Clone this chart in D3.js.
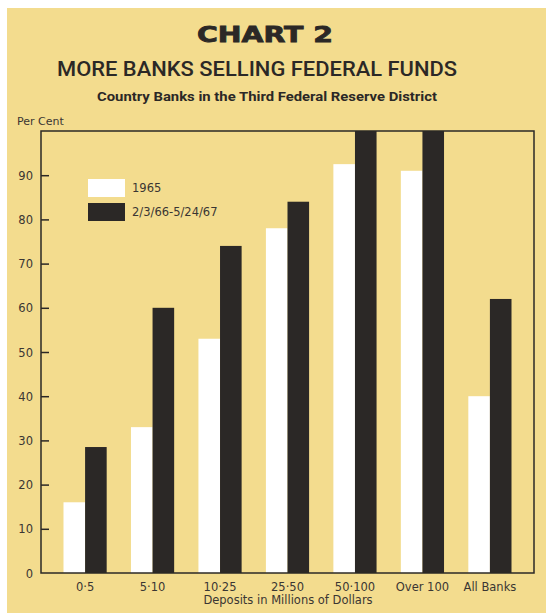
<!DOCTYPE html>
<html>
<head>
<meta charset="utf-8">
<script src="https://cdn.jsdelivr.net/npm/d3@7"></script>
<style>
  body { margin: 0; background: #fff; }
  svg { display: block; }
</style>
</head>
<body>
<svg id="chart"></svg>
<script>
const categories = ["0-5", "5-10", "10-25", "25-50", "50-100", "Over 100", "All Banks"];
const series1965 = [16, 33, 53, 78, 92.5, 91, 40];
const series1967 = [28.5, 60, 74, 84, 100, 100, 62];
const seriesNames = ["1965", "2/3/66-5/24/67"];
const yTicks = [0, 10, 20, 30, 40, 50, 60, 70, 80, 90];

function renderChart() {
    const W = 546, H = 613;
    const paper = "#f3dc8e", ink = "#2b2826", textCol = "#3a3633";

    const svg = d3.select("#chart")
        .attr("width", W)
        .attr("height", H);

    // yellow page with white margin on top/left
    svg.append("rect").attr("x", 7).attr("y", 8).attr("width", W - 7).attr("height", H - 8).attr("fill", paper);

    // frame of the plot
    const left = 41, right = 534, top = 131, bottom = 573;

    const x = d3.scaleBand()
        .domain(categories)
        .range([63.5, 511.5])
        .paddingInner(0.36)
        .paddingOuter(0);

    const sub = d3.scaleBand()
        .domain([0, 1])
        .range([0, x.bandwidth()]);

    const y = d3.scaleLinear()
        .domain([0, 100])
        .range([bottom, top]);

    // Titles
    svg.append("text")
        .attr("x", 265).attr("y", 42)
        .attr("text-anchor", "middle")
        .attr("textLength", 136).attr("lengthAdjust", "spacingAndGlyphs")
        .style("font-family", "DejaVu Sans").style("font-weight", "900")
        .style("font-size", "21px").style("fill", ink)
        .style("stroke", ink).style("stroke-width", "0.8px")
        .text("CHART 2");

    svg.append("text")
        .attr("x", 257).attr("y", 76)
        .attr("text-anchor", "middle")
        .attr("textLength", 400).attr("lengthAdjust", "spacingAndGlyphs")
        .style("font-family", "Roboto").style("font-weight", "500")
        .style("font-size", "20.5px").style("fill", ink)
        .text("MORE BANKS SELLING FEDERAL FUNDS");

    svg.append("text")
        .attr("x", 267).attr("y", 101)
        .attr("text-anchor", "middle")
        .attr("textLength", 340).attr("lengthAdjust", "spacingAndGlyphs")
        .style("font-family", "Roboto").style("font-weight", "bold")
        .style("font-size", "13px").style("fill", ink)
        .text("Country Banks in the Third Federal Reserve District");

    svg.append("text")
        .attr("x", 17).attr("y", 125)
        .style("font-family", "DejaVu Sans")
        .style("font-size", "11px").style("fill", textCol)
        .text("Per Cent");

    // bars
    const groups = svg.append("g").selectAll("g")
        .data(categories)
        .join("g")
        .attr("transform", d => `translate(${x(d)},0)`);

    groups.append("rect")
        .attr("x", sub(0)).attr("width", sub.bandwidth())
        .attr("y", (d, i) => y(series1965[i]))
        .attr("height", (d, i) => y(0) - y(series1965[i]))
        .attr("fill", "#ffffff");

    groups.append("rect")
        .attr("x", sub(1)).attr("width", sub.bandwidth())
        .attr("y", (d, i) => y(series1967[i]))
        .attr("height", (d, i) => y(0) - y(series1967[i]))
        .attr("fill", ink);

    // frame
    svg.append("rect")
        .attr("x", left).attr("y", top)
        .attr("width", right - left).attr("height", bottom - top)
        .attr("fill", "none").attr("stroke", ink).attr("stroke-width", 1.5);

    // y axis, ticks point inward
    const yAxis = svg.append("g")
        .attr("transform", `translate(${left},0)`)
        .call(d3.axisRight(y).tickValues(yTicks).tickSize(8).tickFormat(d3.format("d")));
    yAxis.select(".domain").remove();
    yAxis.selectAll(".tick line")
        .attr("stroke", ink).attr("stroke-width", 1.5)
        .filter(d => d === 0).remove();
    yAxis.selectAll(".tick text")
        .attr("x", -8).attr("dy", "0.35em")
        .attr("text-anchor", "end")
        .style("font-family", "DejaVu Sans")
        .style("font-size", "11.5px").style("fill", textCol);

    // x axis labels
    const xAxis = svg.append("g")
        .attr("transform", `translate(0,${bottom})`)
        .call(d3.axisBottom(x).tickSize(0).tickPadding(10));
    xAxis.select(".domain").remove();
    xAxis.selectAll(".tick text")
        .style("font-family", "DejaVu Sans")
        .style("font-size", "11.5px").style("fill", textCol)
        .text(d => d.replace("-", "\u00b7"));

    svg.append("text")
        .attr("x", 288).attr("y", 604)
        .attr("text-anchor", "middle")
        .style("font-family", "DejaVu Sans")
        .style("font-size", "11.5px").style("fill", textCol)
        .text("Deposits in Millions of Dollars");

    // legend
    const legend = svg.append("g").attr("transform", "translate(88,179)");
    const legendFill = ["#ffffff", ink];
    seriesNames.forEach((name, i) => {
        legend.append("rect")
            .attr("x", 0).attr("y", i * 24)
            .attr("width", 37).attr("height", 18)
            .attr("fill", legendFill[i]);
        legend.append("text")
            .attr("x", 44).attr("y", i * 24 + 9)
            .attr("dy", "0.35em")
            .style("font-family", "DejaVu Sans")
            .style("font-size", "11.5px").style("fill", textCol)
            .text(name);
    });
}

renderChart();
</script>
</body>
</html>
